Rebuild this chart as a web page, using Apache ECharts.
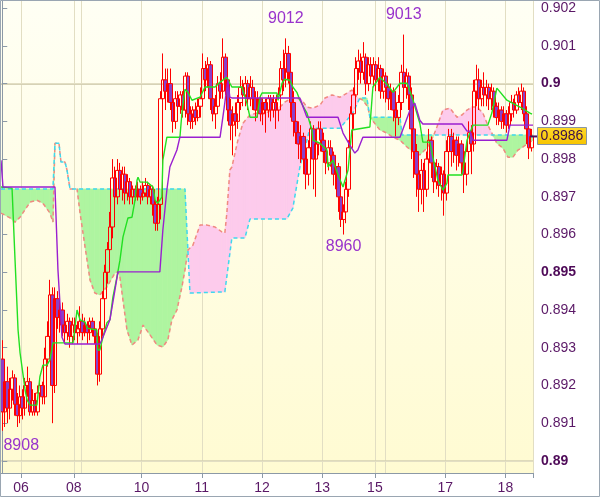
<!DOCTYPE html>
<html><head><meta charset="utf-8">
<script src="https://cdn.jsdelivr.net/npm/echarts@6/dist/echarts.min.js"></script>
<style>html,body{margin:0;padding:0;background:#fff}#c{width:600px;height:497px}</style>
</head><body><div id="c"></div>
<script>
// ---------------- DATA ----------------
const dayLabels   = ['06','08','10','11','12','13','15','17','18'];
const dayStartBar = [8, 29, 56, 80, 104, 128, 149, 177, 201];
const weekLineBar = [32, 153];
const yTicks = [0.890,0.891,0.892,0.893,0.894,0.895,0.896,0.897,0.898,0.899,0.900,0.901,0.902];
const lastPrice = 0.8986;

// [open, close, low, high]
const candles = [
[.8927,.8913,.8908,.8932],[.8913,.8921,.8909,.8924],[.8921,.8914,.8910,.8925],[.8914,.8919,.8911,.8922],
[.8919,.8922,.8916,.8924],[.8922,.8915,.8912,.8923],[.8915,.8912,.8909,.8918],[.8912,.8917,.8910,.8920],
[.8917,.8914,.8911,.8919],[.8914,.8920,.8912,.8922],[.8920,.8921,.8917,.8925],[.8921,.8913,.8912,.8922],
[.8913,.8916,.8912,.8919],[.8916,.8913,.8912,.8918],[.8913,.8918,.8912,.8920],[.8918,.8920,.8916,.8922],
[.8920,.8917,.8915,.8921],[.8917,.8927,.8915,.8930],[.8927,.8933,.8925,.8937],[.8933,.8944,.8930,.8948],
[.8944,.8920,.8910,.8946],[.8920,.8943,.8918,.8946],[.8943,.8938,.8935,.8945],[.8938,.8940,.8934,.8943],
[.8940,.8936,.8933,.8942],[.8936,.8934,.8931,.8938],[.8934,.8937,.8932,.8939],[.8937,.8933,.8930,.8938],
[.8933,.8936,.8931,.8938],[.8936,.8934,.8932,.8938],[.8934,.8935,.8931,.8937],[.8935,.8937,.8933,.8941],
[.8937,.8934,.8932,.8939],[.8934,.8936,.8933,.8938],[.8936,.8934,.8931,.8937],[.8934,.8937,.8932,.8938],
[.8937,.8935,.8933,.8938],[.8935,.8933,.8931,.8937],[.8933,.8923,.8920,.8934],[.8923,.8935,.8921,.8937],
[.8935,.8943,.8933,.8945],[.8943,.8950,.8941,.8952],[.8950,.8956,.8947,.8958],[.8956,.8962,.8954,.8966],
[.8962,.8975,.8959,.8980],[.8975,.8970,.8966,.8978],[.8970,.8977,.8968,.8980],[.8977,.8972,.8970,.8979],
[.8972,.8976,.8969,.8978],[.8976,.8971,.8968,.8978],[.8971,.8974,.8969,.8976],[.8974,.8970,.8968,.8975],
[.8970,.8972,.8968,.8973],[.8972,.8970,.8969,.8973],[.8970,.8972,.8969,.8974],[.8972,.8970,.8968,.8973],
[.8970,.8971,.8969,.8974],[.8971,.8973,.8970,.8975],[.8973,.8970,.8968,.8974],[.8970,.8972,.8968,.8973],
[.8972,.8968,.8965,.8973],[.8968,.8963,.8961,.8969],[.8963,.8968,.8961,.8970],[.8968,.8996,.8964,.8998],
[.8996,.9001,.8990,.9008],[.9001,.8998,.8993,.9004],[.8998,.9000,.8995,.9004],[.9000,.8995,.8993,.9004],
[.8995,.8990,.8987,.8997],[.8990,.8996,.8988,.8998],[.8996,.8994,.8990,.8998],[.8994,.8997,.8992,.8998],
[.8997,.8993,.8991,.8998],[.8993,.9002,.8991,.9003],[.9002,.8992,.8989,.9003],[.8992,.8990,.8988,.8994],
[.8990,.8993,.8988,.8994],[.8993,.8991,.8989,.8995],[.8991,.8994,.8990,.8996],[.8994,.8996,.8991,.8999],
[.8996,.9004,.8994,.9008],[.9004,.9001,.8998,.9006],[.9001,.9005,.8999,.9007],[.9005,.8996,.8993,.9006],
[.8996,.8992,.8990,.8998],[.8992,.8994,.8988,.8997],[.8994,.9000,.8992,.9002],[.9000,.8998,.8996,.9003],
[.8998,.9007,.8996,.9012],[.9007,.9001,.8997,.9008],[.9001,.8993,.8990,.9003],[.8993,.8989,.8985,.8996],
[.8989,.8992,.8981,.8994],[.8992,.8990,.8986,.8995],[.8990,.8995,.8988,.8997],[.8995,.8999,.8993,.9002],
[.8999,.8997,.8994,.9001],[.8997,.9000,.8994,.9002],[.9000,.8996,.8993,.9001],[.8996,.8999,.8994,.9002],
[.8999,.8996,.8993,.9001],[.8996,.8993,.8990,.8998],[.8993,.8996,.8991,.8998],[.8996,.8992,.8990,.8997],
[.8992,.8995,.8989,.8996],[.8995,.8993,.8987,.8996],[.8993,.8996,.8991,.8997],[.8996,.8993,.8990,.8997],
[.8993,.8995,.8991,.8997],[.8995,.8993,.8988,.8996],[.8993,.8997,.8990,.8999],[.8997,.9004,.8995,.9006],
[.9004,.9001,.8998,.9009],[.9001,.9008,.8999,.9012],[.9008,.9003,.9000,.9010],[.9003,.8995,.8991,.9004],
[.8995,.8990,.8986,.8998],[.8990,.8987,.8984,.8993],[.8987,.8984,.8980,.8990],[.8984,.8986,.8979,.8989],
[.8986,.8980,.8976,.8987],[.8980,.8976,.8972,.8982],[.8976,.8983,.8973,.8985],[.8983,.8988,.8978,.8990],
[.8988,.8980,.8972,.8989],[.8980,.8984,.8970,.8986],[.8984,.8988,.8981,.8990],[.8988,.8985,.8982,.8990],
[.8985,.8982,.8979,.8987],[.8982,.8979,.8976,.8984],[.8979,.8983,.8977,.8985],[.8983,.8981,.8978,.8985],
[.8981,.8976,.8973,.8982],[.8976,.8978,.8972,.8980],[.8978,.8970,.8966,.8979],[.8970,.8964,.8962,.8972],
[.8964,.8966,.8960,.8968],[.8966,.8972,.8963,.8974],[.8972,.8983,.8970,.8985],[.8983,.8992,.8980,.8994],
[.8992,.8997,.8988,.8999],[.8997,.9004,.8994,.9007],[.9004,.9006,.9001,.9009],[.9006,.9003,.9000,.9008],
[.9003,.9007,.9001,.9011],[.9007,.9000,.8997,.9008],[.9000,.9005,.8998,.9007],[.9005,.9002,.9000,.9007],
[.9002,.9005,.8999,.9007],[.9005,.9001,.8998,.9006],[.9001,.9004,.8998,.9007],[.9004,.8998,.8996,.9005],
[.8998,.9002,.8996,.9004],[.9002,.8999,.8995,.9003],[.8999,.8996,.8993,.9000],[.8996,.8998,.8993,.9000],
[.8998,.8993,.8990,.8999],[.8993,.8991,.8986,.8995],[.8991,.8995,.8989,.8997],[.8995,.9003,.8993,.9005],
[.9003,.8999,.8996,.9013],[.8999,.9002,.8996,.9004],[.9002,.8997,.8993,.9003],[.8997,.8988,.8980,.8999],
[.8988,.8982,.8975,.8990],[.8982,.8976,.8970,.8984],[.8976,.8972,.8966,.8979],[.8972,.8977,.8968,.8980],
[.8977,.8972,.8966,.8979],[.8972,.8980,.8970,.8982],[.8980,.8985,.8977,.8988],[.8985,.8979,.8975,.8986],
[.8979,.8974,.8971,.8981],[.8974,.8978,.8972,.8980],[.8978,.8973,.8970,.8979],[.8973,.8976,.8969,.8978],
[.8976,.8971,.8965,.8977],[.8971,.8982,.8969,.8985],[.8982,.8986,.8979,.8988],[.8986,.8982,.8978,.8988],
[.8982,.8985,.8979,.8987],[.8985,.8981,.8977,.8986],[.8981,.8984,.8978,.8986],[.8984,.8979,.8976,.8985],
[.8979,.8976,.8971,.8981],[.8976,.8982,.8973,.8984],[.8982,.8987,.8979,.8990],[.8987,.8984,.8976,.8989],
[.8984,.8998,.8982,.9001],[.8998,.9001,.8994,.9005],[.9001,.8996,.8993,.9004],[.8996,.8999,.8994,.9001],
[.8999,.8997,.8994,.9003],[.8997,.8999,.8994,.9001],[.8999,.8996,.8993,.9000],[.8996,.8998,.8993,.9000],
[.8998,.8994,.8991,.8999],[.8994,.8991,.8989,.8995],[.8991,.8993,.8989,.8995],[.8993,.8990,.8988,.8994],
[.8990,.8992,.8988,.8994],[.8992,.8989,.8987,.8993],[.8989,.8992,.8988,.8994],[.8992,.8995,.8990,.8997],
[.8995,.8993,.8991,.8996],[.8993,.8997,.8992,.8998],[.8997,.8995,.8993,.8999],[.8995,.8998,.8993,.9000],
[.8998,.8992,.8990,.8999],[.8992,.8988,.8984,.8994],[.8988,.8983,.8980,.8991],[.8983,.8986,.8982,.8988]
];

// [bar position, price] vertices
const tenkan = [[-0.5,.89726],[3.9,.89723],[5.1,.89532],[6.3,.89347],[7.1,.89286],[8.3,.89228],[9.1,.89188],[9.9,.89162],[11.1,.89148],[13.8,.89148],[15.0,.89223],[16.2,.89254],[17.8,.89254],[19.0,.89268],[20.2,.89313],[28.2,.89313],[29.8,.89400],[31.0,.89374],[33.0,.89368],[33.8,.89352],[37.7,.89347],[38.1,.89294],[38.9,.89294],[40.1,.89328],[41.7,.89366],[42.9,.89374],[44.1,.89434],[45.7,.89487],[46.9,.89532],[48.1,.89593],[50.1,.89644],[51.7,.89646],[52.9,.89691],[53.7,.89744],[54.1,.89752],[54.9,.89739],[57.7,.89739],[60.1,.89726],[60.9,.89691],[62.0,.89683],[63.6,.89699],[64.0,.89797],[65.6,.89858],[70.8,.89858],[71.6,.89922],[72.8,.89985],[74.0,.89977],[75.6,.89956],[78.8,.89964],[80.8,.89991],[84.8,.89991],[86.8,.90004],[89.5,.90017],[90.7,.90001],[91.5,.89991],[95.5,.89991],[97.5,.89948],[98.7,.89911],[101.5,.89911],[102.7,.89964],[103.5,.89975],[109.5,.89975],[109.9,.89956],[111.5,.90001],[112.6,.90012],[114.6,.90009],[115.8,.89991],[117.4,.89977],[118.6,.89956],[121.4,.89922],[123.4,.89877],[123.8,.89850],[126.6,.89842],[129.4,.89824],[129.8,.89779],[131.8,.89797],[133.8,.89758],[135.8,.89726],[137.8,.89771],[139.3,.89877],[146.5,.89885],[147.7,.89991],[150.5,.90017],[153.7,.89996],[155.7,.89977],[158.5,.90001],[161.3,.90001],[163.7,.89956],[166.4,.89895],[167.6,.89845],[170.4,.89845],[171.6,.89805],[173.6,.89744],[175.6,.89718],[177.2,.89736],[177.6,.89758],[183.2,.89758],[183.6,.89771],[185.2,.89850],[187.6,.89890],[193.5,.89890],[195.1,.89922],[197.1,.89988],[201.1,.89956],[206.3,.89938],[210.3,.89922],[211.1,.89919]];

const kijun = [[-0.5,.89797],[0.3,.89726],[21.0,.89726],[22.2,.89506],[23.8,.89328],[25.0,.89310],[38.9,.89310],[39.7,.89321],[42.9,.89374],[44.9,.89453],[46.1,.89501],[62.8,.89501],[64.0,.89612],[65.6,.89718],[66.8,.89779],[69.6,.89824],[70.8,.89858],[86.8,.89858],[88.3,.89930],[89.9,.90009],[90.7,.89964],[91.5,.89962],[118.6,.89962],[121.4,.89911],[133.8,.89911],[135.8,.89869],[138.5,.89837],[140.5,.89816],[141.7,.89824],[143.7,.89858],[158.5,.89858],[162.5,.89930],[164.4,.89948],[166.4,.89903],[167.6,.89893],[183.2,.89893],[185.2,.89874],[186.4,.89874],[187.6,.89850],[201.1,.89850],[202.3,.89890],[211.5,.89890]];

const spanA = [[-0.5,.89657],[3.1,.89644],[5.1,.89633],[7.1,.89646],[11.1,.89686],[13.8,.89691],[16.2,.89683],[19.0,.89657],[20.2,.89633],[21.0,.89842],[22.6,.89842],[23.4,.89792],[25.0,.89792],[25.8,.89771],[27.0,.89721],[29.8,.89721],[31.0,.89657],[33.0,.89567],[35.0,.89479],[36.9,.89445],[38.9,.89440],[41.7,.89461],[44.9,.89498],[46.1,.89501],[46.9,.89487],[48.1,.89426],[49.7,.89347],[51.7,.89307],[54.1,.89321],[56.1,.89360],[58.9,.89334],[61.7,.89307],[64.0,.89302],[66.0,.89321],[67.6,.89374],[69.6,.89400],[71.6,.89461],[72.8,.89506],[74.0,.89559],[76.0,.89572],[78.8,.89625],[81.6,.89625],[84.8,.89620],[87.5,.89607],[88.7,.89604],[89.5,.89657],[90.7,.89771],[91.5,.89779],[93.9,.89850],[95.9,.89895],[98.7,.89917],[101.5,.89922],[104.7,.89922],[107.9,.89930],[110.7,.89938],[112.6,.89951],[115.4,.89962],[117.4,.89962],[119.4,.89956],[121.4,.89938],[123.8,.89935],[126.6,.89943],[128.6,.89962],[131.4,.89970],[134.6,.89964],[137.4,.89975],[139.3,.89983],[141.3,.89964],[143.7,.89956],[145.7,.89938],[146.5,.89911],[150.5,.89877],[153.3,.89869],[155.7,.89858],[158.5,.89850],[161.3,.89832],[163.7,.89819],[166.4,.89811],[169.2,.89829],[171.6,.89858],[173.2,.89885],[175.6,.89930],[178.4,.89935],[181.2,.89911],[183.2,.89917],[185.2,.89930],[187.2,.89938],[189.2,.89938],[191.5,.89922],[193.5,.89890],[195.1,.89869],[197.1,.89842],[199.5,.89829],[201.5,.89805],[203.5,.89805],[205.5,.89824],[207.5,.89832],[209.5,.89842],[211.5,.89850]];

const spanB = [[-0.5,.89721],[20.2,.89721],[21.0,.89842],[22.6,.89842],[23.4,.89792],[25.0,.89792],[25.8,.89771],[27.0,.89721],[72.8,.89721],[74.8,.89445],[88.7,.89448],[91.5,.89591],[96.7,.89591],[98.7,.89641],[113.4,.89641],[115.8,.89670],[118.6,.89779],[121.4,.89850],[122.6,.89882],[134.6,.89882],[139.7,.89922],[142.5,.89962],[145.3,.89962],[146.5,.89911],[158.5,.89911],[159.3,.89864],[211.5,.89864]];

const annotations = [
  {bar: 0,   price: .8908, text: '8908', kind: 'lowRight'},
  {bar: 113, price: .9012, text: '9012', kind: 'high'},
  {bar: 136, price: .8960, text: '8960', kind: 'low'},
  {bar: 160, price: .9013, text: '9013', kind: 'high'}
];

// ---------------- CHART ----------------
const categories = candles.map((_, i) => String(i));
const N = candles.length;
const LABEL = '#5a1866', ANNO = '#9933cc', AXIS = '#8c99a6';
const GREEN = '#aef5a0', PINK = '#fdcbec';

const chart = echarts.init(document.getElementById('c'), null, {renderer: 'canvas'});

function cloudRender(params, api) {
  const pa = spanA.map(p => api.coord(p));
  const pb = spanB.map(p => api.coord(p));
  const xs = Array.from(new Set(pa.map(p => p[0]).concat(pb.map(p => p[0])))).sort((a, b) => a - b);
  function at(poly, x) {
    for (let i = 0; i < poly.length - 1; i++) {
      const a = poly[i], b = poly[i + 1];
      if (x >= a[0] && x <= b[0]) return b[0] === a[0] ? a[1] : a[1] + (b[1] - a[1]) * (x - a[0]) / (b[0] - a[0]);
    }
    return poly[poly.length - 1][1];
  }
  function poly(points, green) {
    const c = green ? GREEN : PINK;
    return {type: 'polygon', shape: {points}, style: {fill: c, stroke: c, lineWidth: 0.6}};
  }
  const children = [];
  for (let i = 0; i < xs.length - 1; i++) {
    const x0 = xs[i], x1 = xs[i + 1];
    const a0 = at(pa, x0), a1 = at(pa, x1), b0 = at(pb, x0), b1 = at(pb, x1);
    const d0 = a0 - b0, d1 = a1 - b1;
    if (d0 * d1 < 0) {
      const t = d0 / (d0 - d1), xm = x0 + (x1 - x0) * t, ym = a0 + (a1 - a0) * t;
      children.push(poly([[x0, a0], [xm, ym], [x0, b0]], d0 > 0));
      children.push(poly([[xm, ym], [x1, a1], [x1, b1]], d1 > 0));
    } else if (d0 !== 0 || d1 !== 0) {
      children.push(poly([[x0, a0], [x1, a1], [x1, b1], [x0, b0]], (d0 + d1) > 0));
    }
  }
  return {type: 'group', children};
}

const splitBars = dayStartBar.concat(weekLineBar);

const option = {
  animation: false,
  backgroundColor: '#ffffff',
  grid: {
    left: 1, right: 67, top: 1, bottom: 24, show: true, borderWidth: 0,
    backgroundColor: new echarts.graphic.LinearGradient(0, 0, 0, 1, [
      {offset: 0, color: '#fffff4'}, {offset: 1, color: '#fffbd2'}])
  },
  xAxis: [{
    type: 'category', data: categories, boundaryGap: true,
    axisLine: {show: true, lineStyle: {color: AXIS, width: 1}},
    axisTick: {show: true, length: 5, interval: (i) => dayStartBar.includes(i), lineStyle: {color: AXIS}},
    axisLabel: {
      interval: (i) => dayStartBar.includes(i),
      formatter: (v, i) => { const k = dayStartBar.indexOf(Number(v)); return k >= 0 ? dayLabels[k] : ''; },
      color: LABEL, fontSize: 14, fontFamily: 'Liberation Sans, Arial, sans-serif', margin: 8,
      padding: [0, 2.5, 0, 0]
    },
    splitLine: {show: true, interval: (i) => splitBars.includes(i), lineStyle: {color: '#e2dec3', width: 1}}
  }, {
    type: 'value', min: -0.5, max: N - 0.5, show: false
  }],
  yAxis: {
    type: 'value', position: 'right', min: 0.88968, max: 0.90219, scale: true,
    axisLine: {show: true, lineStyle: {color: AXIS, width: 1}},
    axisTick: {show: true, length: 5, customValues: yTicks, lineStyle: {color: AXIS}},
    axisLabel: {
      customValues: yTicks, margin: 8, color: LABEL, fontSize: 14,
      fontFamily: 'Liberation Sans, Arial, sans-serif',
      formatter: (v) => {
        const s = String(+Number(v).toFixed(3));
        return Math.round(v * 1000) % 5 === 0 ? '{b|' + s + '}' : s;
      },
      rich: {b: {fontWeight: 'bold', fontSize: 14, color: '#4e0a58', fontFamily: 'Liberation Sans, Arial, sans-serif'}}
    },
    splitLine: {show: false}
  },
  series: [
    { // horizontal grid
      type: 'line', data: [], z: 0, silent: true,
      markLine: {
        silent: true, symbol: 'none', z: 0, label: {show: false}, animation: false,
        data: yTicks.map(v => ({
          yAxis: v,
          lineStyle: Math.round(v * 1000) % 5 === 0
            ? {color: '#d3cfb2', width: 1.6, type: 'solid'}
            : {color: '#e2dec3', width: 1, type: 'solid'}
        }))
      }
    },
    {
      type: 'custom', name: 'cloud', xAxisIndex: 1, z: 1, silent: true, clip: true,
      data: [[0, 0.895]], renderItem: cloudRender
    },
    {
      type: 'line', name: 'SpanA', xAxisIndex: 1, data: spanA, z: 2, showSymbol: false, silent: true,
      lineStyle: {color: '#f08a80', width: 1.5, type: [4, 3]}
    },
    {
      type: 'line', name: 'SpanB', xAxisIndex: 1, data: spanB, z: 2, showSymbol: false, silent: true,
      lineStyle: {color: '#3fd8ee', width: 1.5, type: [4, 3]}
    },
    {
      type: 'candlestick', name: 'price', data: candles, z: 3, barWidth: 4,
      itemStyle: {color: 'rgba(0,0,0,0)', color0: '#8a40c8', borderColor: '#ff0000', borderColor0: '#ff0000', borderWidth: 1},
      markPoint: {
        symbol: 'circle', symbolSize: 0, silent: true, z: 6,
        data: annotations.map(a => ({
          coord: [a.bar, a.price], value: a.text,
          label: {
            show: true, formatter: a.text, color: ANNO, fontSize: 16,
            fontFamily: 'Liberation Sans, Arial, sans-serif',
            offset: a.kind === 'high' ? [0, -20] : a.kind === 'low' ? [0, 12] : [19, 15]
          }
        }))
      }
    },
    {
      type: 'line', name: 'Tenkan', xAxisIndex: 1, data: tenkan, z: 4, showSymbol: false, silent: true,
      lineStyle: {color: '#22e022', width: 1.4}
    },
    {
      type: 'line', name: 'Kijun', xAxisIndex: 1, data: kijun, z: 4, showSymbol: false, silent: true,
      lineStyle: {color: '#9a1fd0', width: 1.4}
    }
  ]
};
chart.setOption(option);

// current price tag on the right axis
const py = chart.convertToPixel({yAxisIndex: 0}, lastPrice);
const gx = chart.convertToPixel({xAxisIndex: 1}, N - 0.5);
chart.setOption({
  graphic: [
    {type: 'rect', shape: {x: 0.5, y: 0.5, width: 599, height: 496}, style: {fill: 'none', stroke: '#9aa6b2', lineWidth: 1}, z: 100, silent: true},
    {type: 'line', shape: {x1: gx - 3, y1: py, x2: gx + 5, y2: py}, style: {stroke: '#4a0f5a', lineWidth: 2}, z: 100},
    {type: 'rect', shape: {x: gx + 4.5, y: Math.round(py) - 8.5, width: 49, height: 17},
      style: {fill: new echarts.graphic.LinearGradient(0, 0, 0, 1, [{offset: 0, color: '#ffd92a'}, {offset: 1, color: '#f6c400'}]),
        stroke: '#8a96a2', lineWidth: 1}, z: 100},
    {type: 'text', x: gx + 29, y: Math.round(py) + 0.5,
      style: {text: String(lastPrice), fill: '#3c0f48', font: '14px Liberation Sans, Arial, sans-serif', textAlign: 'center', textVerticalAlign: 'middle'}, z: 101}
  ]
});
</script></body></html>
